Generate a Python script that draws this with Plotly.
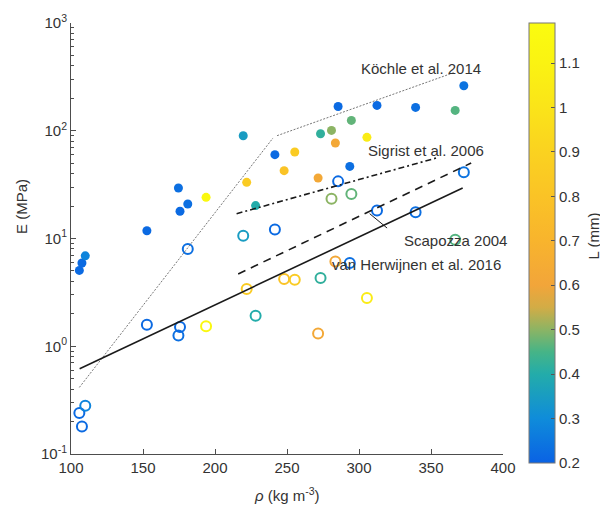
import plotly.graph_objects as go

# ---------------- data ----------------
rho = [105.8, 107.6, 109.9, 152.7, 174.6, 175.7, 181.1, 193.8, 219.6, 222.0, 228.2,
       241.6, 248.0, 255.4, 271.6, 273.3, 280.9, 283.6, 285.5, 293.6, 294.7, 305.5,
       312.5, 339.3, 366.8, 372.8]
E_filled = [5.06, 5.93, 6.9, 11.8, 29.4, 17.9, 20.9, 24.1, 89.9, 33.2, 20.2,
            60.0, 42.6, 63.5, 36.4, 93.9, 100.8, 76.9, 168.0, 46.7, 124.7, 86.8,
            171.9, 164.7, 154.5, 261.8]
E_open = [0.240, 0.180, 0.281, 1.585, 1.26, 1.51, 7.99, 1.53, 10.6, 3.40, 1.92,
          12.1, 4.21, 4.15, 1.31, 4.30, 23.4, 6.13, 33.9, 5.93, 25.9, 2.81,
          18.2, 17.5, 9.75, 41.1]
L_mm = [0.22, 0.22, 0.28, 0.22, 0.23, 0.22, 0.23, 1.15, 0.35, 0.85, 0.40,
        0.22, 0.80, 0.85, 0.62, 0.42, 0.50, 0.62, 0.22, 0.23, 0.47, 1.05,
        0.22, 0.23, 0.46, 0.24]

kochle_x = [105.8, 240.3, None, 243.1, 366.3]
kochle_E = [0.415, 85.7, None, 90.0, 348.0]
sigrist_x = [215.0, 353.6]
sigrist_E = [17.0, 55.8]
scapozza_x = [216.1, 377.9]
scapozza_E = [4.69, 50.2]
vanh_x = [106.0, 372.0]
vanh_E = [0.619, 29.4]
leader_x = [307.4, 319.5]
leader_E = [17.0, 12.5]

x_ticks = [100, 150, 200, 250, 300, 350, 400]
y_ticks = [0.1, 1, 10, 100, 1000]
y_ticktext = ["10<sup>-1</sup>", "10<sup>0</sup>", "10<sup>1</sup>", "10<sup>2</sup>", "10<sup>3</sup>"]
cb_ticks = [0.2, 0.3, 0.4, 0.5, 0.6, 0.7, 0.8, 0.9, 1.0, 1.1]
cb_ticktext = ["0.2", "0.3", "0.4", "0.5", "0.6", "0.7", "0.8", "0.9", "1", "1.1"]
L_min, L_max = 0.2, 1.19

# colour map (sampled from the reference colour bar)
cmap_L = [0.2, 0.3, 0.4, 0.45, 0.5, 0.55, 0.6, 0.7, 0.8, 0.9, 1.0, 1.1, 1.19]
cmap_rgb = [(10, 98, 228), (15, 140, 218), (35, 172, 170), (70, 180, 135), (140, 180, 100),
            (210, 172, 70), (242, 165, 58), (248, 180, 45), (250, 195, 38), (250, 210, 32),
            (250, 228, 25), (250, 243, 18), (250, 252, 15)]
colorscale = [[(v - L_min) / (L_max - L_min), "rgb(%d,%d,%d)" % c] for v, c in zip(cmap_L, cmap_rgb)]

# ---------------- figure ----------------
ML, MR, MT, MB = 71, 97, 23, 52
W, H = 600, 506
PW, PH = W - ML - MR, H - MT - MB


def px(xp):
    return (xp - ML) / PW


def py(yp):
    return (H - MB - yp) / PH


AX = "#4d4d4d"
TXT = "#333333"
FONT = "Liberation Sans, Arial, sans-serif"

fig = go.Figure()

fig.add_trace(go.Scatter(
    x=rho, y=E_filled, mode="markers",
    marker=dict(symbol="circle", size=9, color=L_mm, colorscale=colorscale,
                cmin=L_min, cmax=L_max, line=dict(width=0),
                showscale=True,
                colorbar=dict(x=px(529), xanchor="left", xpad=0, y=1, yanchor="top", ypad=0,
                              lenmode="pixels", len=440, thicknessmode="pixels", thickness=26,
                              outlinewidth=1, outlinecolor="#777777",
                              tickmode="array", tickvals=cb_ticks, ticktext=cb_ticktext,
                              ticks="inside", ticklen=4, tickcolor="#555555",
                              tickfont=dict(size=15, color=TXT, family=FONT))),
    showlegend=False, hoverinfo="skip"))

fig.add_trace(go.Scatter(
    x=rho, y=E_open, mode="markers",
    marker=dict(symbol="circle-open", size=10, color=L_mm, colorscale=colorscale,
                cmin=L_min, cmax=L_max, line=dict(width=2), showscale=False),
    showlegend=False, hoverinfo="skip"))

fig.add_trace(go.Scatter(x=kochle_x, y=kochle_E, mode="lines",
                         line=dict(color="#777777", width=1, dash="2px,1.5px"),
                         showlegend=False, hoverinfo="skip"))
fig.add_trace(go.Scatter(x=sigrist_x, y=sigrist_E, mode="lines",
                         line=dict(color="#1a1a1a", width=1.6, dash="6px,3px,2px,3px"),
                         showlegend=False, hoverinfo="skip"))
fig.add_trace(go.Scatter(x=scapozza_x, y=scapozza_E, mode="lines",
                         line=dict(color="#1a1a1a", width=1.6, dash="8px,6px"),
                         showlegend=False, hoverinfo="skip"))
fig.add_trace(go.Scatter(x=vanh_x, y=vanh_E, mode="lines",
                         line=dict(color="#1a1a1a", width=1.6),
                         showlegend=False, hoverinfo="skip"))
fig.add_trace(go.Scatter(x=leader_x, y=leader_E, mode="lines",
                         line=dict(color="#1a1a1a", width=1),
                         showlegend=False, hoverinfo="skip"))

minor_vals = [m * 10 ** d for d in (-1, 0, 1, 2) for m in range(2, 10)]

fig.update_layout(
    width=W, height=H,
    margin=dict(l=ML, r=MR, t=MT, b=MB, pad=0),
    plot_bgcolor="white", paper_bgcolor="white",
    font=dict(family=FONT, size=15, color=TXT),
    showlegend=False,
    xaxis=dict(range=[100, 400], tickmode="array", tickvals=x_ticks,
               ticks="inside", ticklen=5, tickcolor=AX, showline=True, linecolor=AX,
               linewidth=1, showgrid=False, zeroline=False,
               tickfont=dict(size=15, color=TXT, family=FONT)),
    yaxis=dict(type="log", range=[-1, 3], tickmode="array", tickvals=y_ticks,
               ticktext=y_ticktext, ticks="inside", ticklen=5, tickcolor=AX,
               showline=True, linecolor=AX, linewidth=1, showgrid=False, zeroline=False,
               minor=dict(tickmode="array", tickvals=minor_vals, ticks="inside",
                          ticklen=3, tickcolor=AX, showgrid=False),
               tickfont=dict(size=15, color=TXT, family=FONT)),
)

ann = [
    dict(text="Köchle et al. 2014", x=px(359), y=py(68), xanchor="left", yanchor="middle"),
    dict(text="Sigrist et al. 2006", x=px(366), y=py(150), xanchor="left", yanchor="middle"),
    dict(text="Scapozza 2004", x=px(402), y=py(240.5), xanchor="left", yanchor="middle"),
    dict(text="van Herwijnen et al. 2016", x=px(330), y=py(264.5), xanchor="left", yanchor="middle"),
    dict(text="E (MPa)", x=px(21), y=py(207), xanchor="center", yanchor="middle", textangle=-90),
    dict(text="<i>ρ</i> (kg m<sup>-3</sup>)", x=px(287), y=py(494), xanchor="center", yanchor="middle"),
    dict(text="L (mm)", x=px(582), y=py(236), xanchor="left", yanchor="middle", textangle=-90),
]
for a in ann:
    fig.add_annotation(xref="paper", yref="paper", showarrow=False,
                       font=dict(size=15, color=TXT, family=FONT), **a)

fig.write_html("out.html")
